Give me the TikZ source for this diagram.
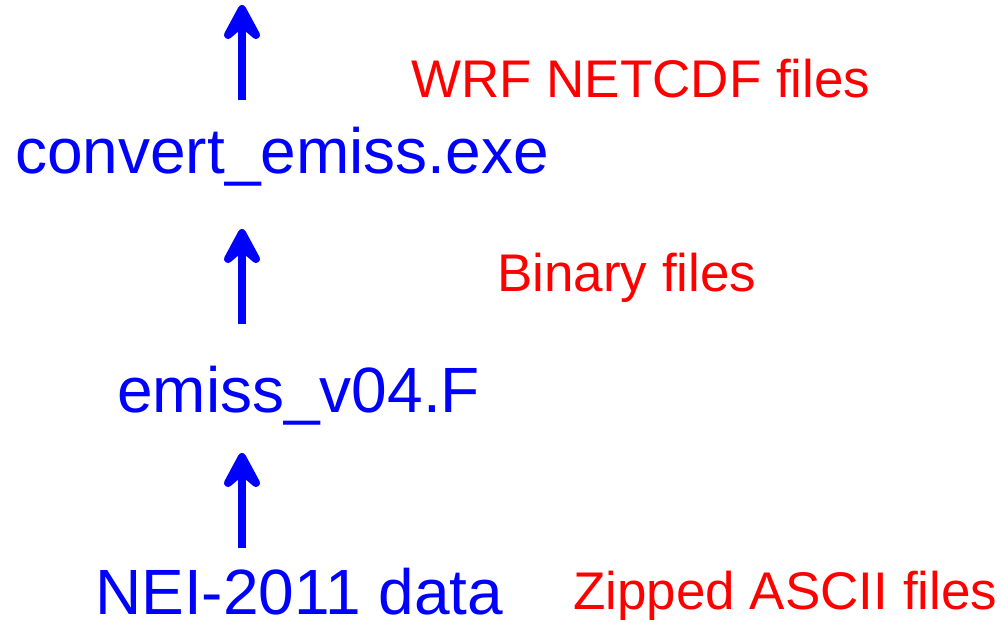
\documentclass[tikz,border=0pt]{standalone}
\usepackage{fontspec}
\setmainfont{Liberation Sans}
\begin{document}
\begin{tikzpicture}[x=1pt,y=-1pt,
  prog/.style={text=blue, font=\fontsize{64}{70}\selectfont, anchor=base west, inner sep=0pt},
  ftype/.style={text=red, font=\fontsize{53}{60}\selectfont, anchor=base west, inner sep=0pt},
  shaft/.style={draw=blue, line width=8pt},
  head/.style={fill=blue, draw=blue, line width=8pt, line join=round}]
\useasboundingbox (0,0) rectangle (1002,622);
\node[prog] (conv) at (15,173) {convert\_emiss.exe};
\node[prog] (emiss) at (117,412) {emiss\_v04.F};
\node[prog] (nei) at (95,614) {NEI-2011 data};
\node[ftype] (wrf) at (411,97) {WRF NETCDF files};
\node[ftype] (bin) at (497,291) {Binary files};
\node[ftype] (zip) at (573,609) {Zipped ASCII files};
\coordinate (t1) at (242,5);
\coordinate (b1) at (242,100);
\coordinate (t2) at (242,229);
\coordinate (b2) at (242,324);
\coordinate (t3) at (242,453);
\coordinate (b3) at (242,548);
\foreach \i in {1,2,3}{
  \draw[shaft] (b\i) -- ([yshift=-20pt]t\i);
  \draw[head] ([yshift=-4pt]t\i) -- ([xshift=-14pt,yshift=-30pt]t\i) -- ([yshift=-18pt]t\i) -- ([xshift=14pt,yshift=-30pt]t\i) -- cycle;
}
\end{tikzpicture}
\end{document}
